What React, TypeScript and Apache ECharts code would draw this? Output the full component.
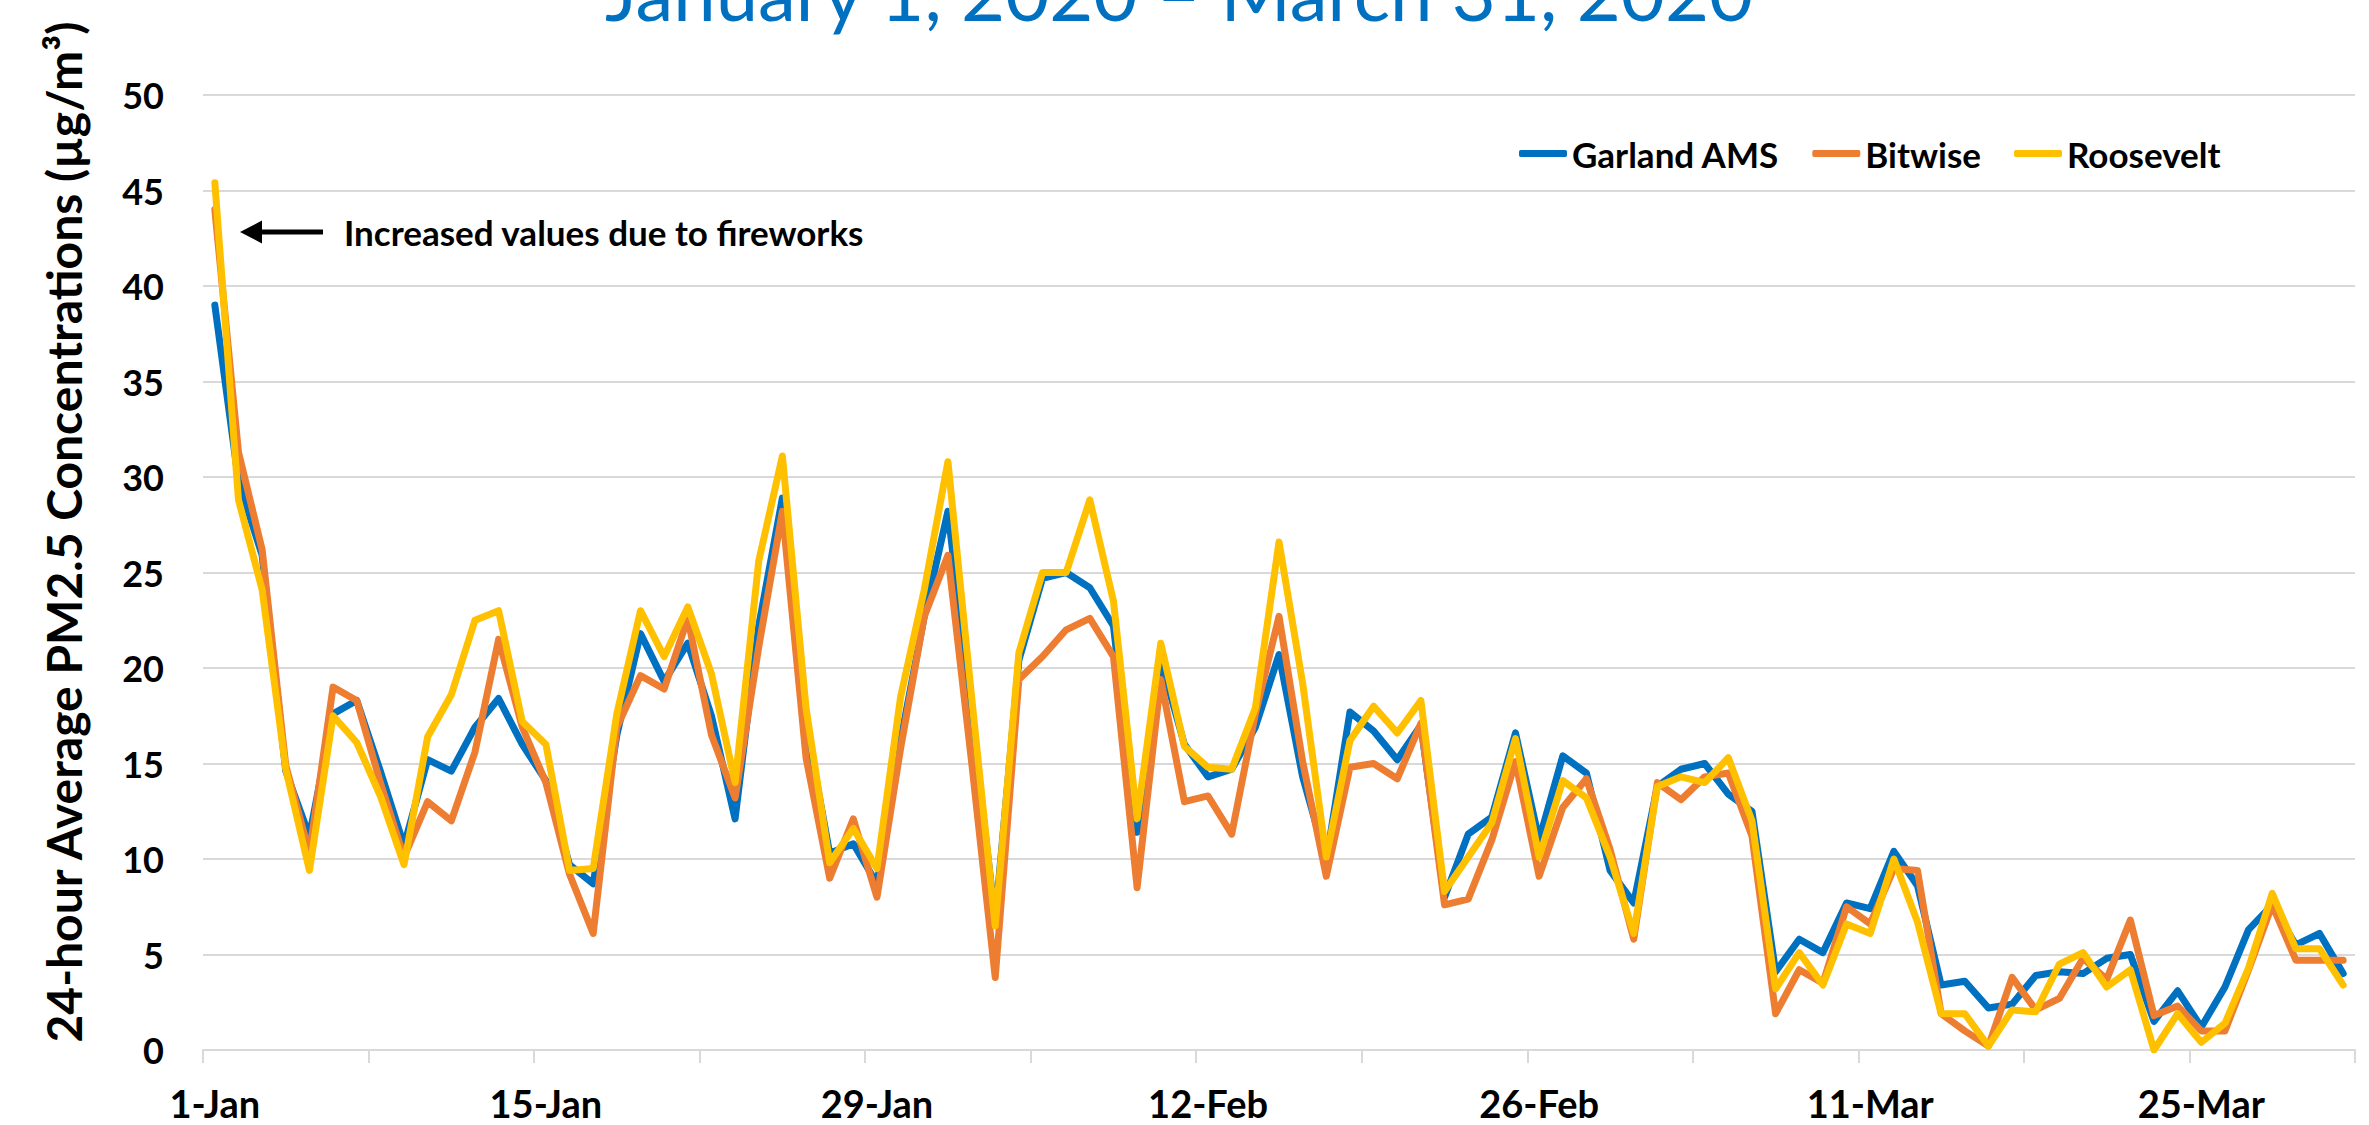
import React, { useEffect, useRef } from "react";
import * as echarts from "echarts";

const MONTHS = ["Jan", "Feb", "Mar", "Apr"];
const DAY_COUNT = 91; // 1 Jan 2020 .. 31 Mar 2020 (leap year)
const categories: string[] = Array.from({ length: DAY_COUNT }, (_, i) => {
  const d = new Date(2020, 0, 1 + i);
  return `${d.getDate()}-${MONTHS[d.getMonth()]}`;
});

const seriesNames = ["Garland AMS", "Bitwise", "Roosevelt"];
const seriesColors = ["#0070C0", "#ED7D31", "#FFC000"];

const garland = [
  39.0, 29.8, 25.9, 14.6, 11.2, 17.6, 18.3, 14.6, 10.7, 15.2,
  14.6, 16.9, 18.4, 16.0, 14.1, 9.7, 8.7, 16.5, 21.8, 19.3,
  21.3, 17.5, 12.1, 22.2, 28.9, 17.1, 10.3, 10.8, 8.7, 16.2,
  22.7, 28.2, 17.6, 6.8, 20.4, 24.7, 25.0, 24.2, 22.2, 11.4,
  20.4, 16.0, 14.3, 14.7, 16.9, 20.7, 14.3, 9.9, 17.7, 16.7,
  15.2, 17.0, 8.0, 11.3, 12.2, 16.6, 11.0, 15.4, 14.5, 9.4,
  7.7, 13.8, 14.7, 15.0, 13.4, 12.5, 4.1, 5.8, 5.1, 7.7,
  7.4, 10.4, 8.6, 3.4, 3.6, 2.2, 2.4, 3.9, 4.1, 4.0,
  4.8, 5.0, 1.5, 3.1, 1.2, 3.3, 6.3, 7.6, 5.5, 6.1,
  4.0,
];

const bitwise = [
  44.0, 31.3, 26.2, 14.9, 10.3, 19.0, 18.3, 14.0, 10.1, 13.0,
  12.0, 15.6, 21.5, 16.9, 14.0, 9.2, 6.1, 16.9, 19.6, 18.9,
  22.6, 16.5, 13.2, 21.1, 28.2, 15.3, 9.0, 12.1, 8.0, 15.8,
  22.7, 25.9, 15.1, 3.8, 19.4, 20.6, 22.0, 22.6, 20.6, 8.5,
  19.4, 13.0, 13.3, 11.3, 17.6, 22.7, 15.1, 9.1, 14.8, 15.0,
  14.2, 17.1, 7.6, 7.9, 11.0, 15.1, 9.1, 12.7, 14.2, 10.5,
  5.8, 14.0, 13.1, 14.3, 14.5, 11.2, 1.9, 4.2, 3.5, 7.5,
  6.6, 9.5, 9.4, 1.9, 1.0, 0.2, 3.8, 2.1, 2.7, 4.8,
  3.7, 6.8, 1.8, 2.3, 1.0, 1.0, 4.2, 7.6, 4.7, 4.7,
  4.7,
];

const roosevelt = [
  45.4, 28.8, 24.1, 14.7, 9.4, 17.5, 16.1, 13.3, 9.7, 16.4,
  18.6, 22.5, 23.0, 17.2, 16.0, 9.4, 9.5, 17.6, 23.0, 20.6,
  23.2, 19.7, 14.0, 25.6, 31.1, 17.9, 9.8, 11.6, 9.5, 18.5,
  24.1, 30.8, 18.5, 6.5, 20.8, 25.0, 25.0, 28.8, 23.5, 12.1,
  21.3, 15.9, 14.8, 14.7, 17.9, 26.6, 19.2, 10.1, 16.2, 18.0,
  16.6, 18.3, 8.3, 10.1, 11.9, 16.3, 10.1, 14.1, 13.2, 10.1,
  6.1, 13.8, 14.3, 14.0, 15.3, 12.0, 3.2, 5.1, 3.4, 6.6,
  6.1, 10.0, 6.7, 1.9, 1.9, 0.2, 2.1, 2.0, 4.5, 5.1,
  3.3, 4.2, 0.0, 1.9, 0.4, 1.4, 4.3, 8.2, 5.3, 5.3,
  3.4,
];

const seriesData = [garland, bitwise, roosevelt];

const titleText = "January 1, 2020 \u2013 March 31, 2020";
const yAxisTitle = "24-hour Average PM2.5 Concentrations (\u00b5g/m\u00b3)";
const annotationText = "Increased values due to fireworks";

const FONT = "Lato, 'Open Sans', sans-serif";

export default function App() {
  const ref = useRef<HTMLDivElement>(null);

  useEffect(() => {
    if (!ref.current) return;
    const chart = echarts.init(ref.current, undefined, { renderer: "svg" });
    chart.setOption({
      animation: false,
      backgroundColor: "#ffffff",
      textStyle: { fontFamily: FONT },
      grid: { left: 203, right: 14, top: 95, bottom: 75, containLabel: false },
      legend: {
        left: 1514,
        top: 131,
        itemWidth: 48,
        itemHeight: 7,
        itemGap: 33,
        icon: "roundRect",
        data: seriesNames.map((n, i) => ({ name: n, itemStyle: { color: seriesColors[i] } })),
        textStyle: { fontFamily: FONT, fontWeight: "bold", fontSize: 35, color: "#000" },
      },
      xAxis: {
        type: "category",
        data: categories,
        boundaryGap: true,
        axisLine: { show: true, lineStyle: { color: "#D9D9D9", width: 2 } },
        axisTick: { show: true, interval: 6, length: 13, lineStyle: { color: "#D9D9D9", width: 2 } },
        axisLabel: {
          interval: 13,
          margin: 34,
          fontFamily: FONT,
          fontWeight: "bold",
          fontSize: 38,
          color: "#000",
        },
        splitLine: { show: false },
      },
      yAxis: {
        type: "value",
        min: 0,
        max: 50,
        interval: 5,
        axisLine: { show: false },
        axisTick: { show: false },
        axisLabel: { margin: 39, fontFamily: FONT, fontWeight: "bold", fontSize: 36, color: "#000" },
        splitLine: { show: true, lineStyle: { color: "#D9D9D9", width: 2 } },
      },
      series: seriesNames.map((name, i) => ({
        name,
        type: "line",
        data: seriesData[i],
        symbol: "none",
        smooth: false,
        lineStyle: { color: seriesColors[i], width: 7, join: "round", cap: "round" },
        itemStyle: { color: seriesColors[i] },
        z: 2 + i,
      })),
      graphic: [
        {
          type: "text",
          x: 1179,
          y: -9,
          style: {
            text: titleText,
            fontFamily: FONT,
            fontSize: 76,
            fill: "#0070C0",
            align: "center",
            verticalAlign: "middle",
          },
        },
        {
          type: "text",
          x: 63,
          y: 532,
          rotation: Math.PI / 2,
          style: {
            text: yAxisTitle,
            fontFamily: FONT,
            fontWeight: "bold",
            fontSize: 48,
            fill: "#000",
            align: "center",
            verticalAlign: "middle",
          },
        },
        {
          type: "polygon",
          shape: { points: [[240, 232], [262, 220.5], [262, 243.5]] },
          style: { fill: "#000" },
        },
        {
          type: "rect",
          shape: { x: 260, y: 229.5, width: 63, height: 5 },
          style: { fill: "#000" },
        },
        {
          type: "text",
          x: 344,
          y: 232,
          style: {
            text: annotationText,
            fontFamily: FONT,
            fontWeight: "bold",
            fontSize: 35,
            fill: "#000",
            align: "left",
            verticalAlign: "middle",
          },
        },
      ],
    });
    return () => chart.dispose();
  }, []);

  return (
    <div
      ref={ref}
      style={{ position: "fixed", left: 0, top: 0, width: 2369, height: 1125, background: "#fff" }}
    />
  );
}
